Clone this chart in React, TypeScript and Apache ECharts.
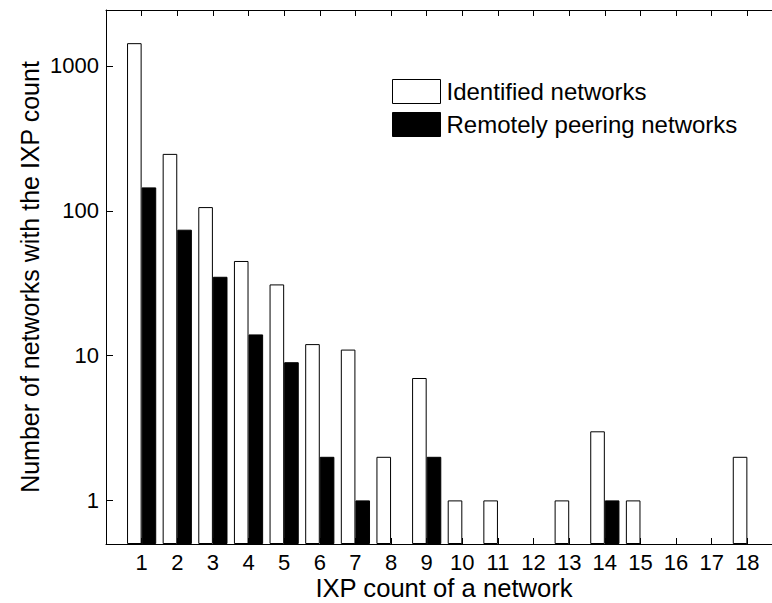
import React, { useEffect, useRef } from "react";
import * as echarts from "echarts";

// Number of IXPs a network is present at
const ixpCounts = [1, 2, 3, 4, 5, 6, 7, 8, 9, 10, 11, 12, 13, 14, 15, 16, 17, 18];
// Networks identified at each IXP count (0 = none)
const identified = [1436, 247, 106, 45, 31, 12, 11, 2, 7, 1, 1, 0, 1, 3, 1, 0, 0, 2];
// Networks peering remotely at each IXP count (0 = none)
const remotelyPeering = [145, 74, 35, 14, 9, 2, 1, 0, 2, 0, 0, 0, 0, 1, 0, 0, 0, 0];
const yTickValues = [1, 10, 100, 1000];

const seriesNames = ["Identified networks", "Remotely peering networks"];
const xTitle = "IXP count of a network";
const yTitle = "Number of networks with the IXP count";

const FONT = "'Liberation Sans', Arial, Helvetica, sans-serif";

const toPoints = (values: number[]) =>
  ixpCounts.map((c, i) => [c, values[i] > 0 ? values[i] : null]);

export default function App() {
  const ref = useRef<HTMLDivElement>(null);

  useEffect(() => {
    if (!ref.current) return;
    const chart = echarts.init(ref.current, undefined, { renderer: "svg" });

    const xAxisBase = {
      type: "value" as const,
      min: 0,
      max: ixpCounts.length + 1,
      interval: 1,
      splitLine: { show: false },
      axisLine: { show: true, lineStyle: { color: "#000", width: 1 } },
      axisTick: { show: true, inside: true, length: 6, lineStyle: { color: "#000" } },
    };

    chart.setOption({
      animation: false,
      backgroundColor: "#fff",
      textStyle: { fontFamily: FONT },
      grid: { left: 106, right: 7, top: 10, bottom: 59, containLabel: false },
      legend: {
        orient: "vertical",
        left: 392,
        top: 79,
        padding: 0,
        itemWidth: 48,
        itemHeight: 24,
        itemGap: 8,
        icon: "rect",
        textStyle: { fontFamily: FONT, fontSize: 24, color: "#000", padding: [0, 0, 0, 1] },
        data: [
          { name: seriesNames[0], itemStyle: { color: "#fff", borderColor: "#000", borderWidth: 1 } },
          { name: seriesNames[1], itemStyle: { color: "#000", borderColor: "#000", borderWidth: 1 } },
        ],
      },
      xAxis: [
        {
          ...xAxisBase,
          position: "bottom",
          axisLabel: {
            show: true,
            margin: 7,
            fontFamily: FONT,
            fontSize: 22,
            color: "#000",
            formatter: (v: number) => (ixpCounts.includes(v) ? String(v) : ""),
          },
        },
        {
          ...xAxisBase,
          position: "top",
          axisLabel: { show: false },
        },
      ],
      yAxis: {
        type: "log",
        logBase: 10,
        min: 0.5,
        max: 2433,
        startValue: 0.5,
        splitLine: { show: false },
        minorTick: { show: false },
        axisLine: { show: true, lineStyle: { color: "#000", width: 1 } },
        axisTick: { show: true, inside: true, length: 7, lineStyle: { color: "#000" } },
        axisLabel: {
          margin: 7,
          fontFamily: FONT,
          fontSize: 22,
          color: "#000",
          showMinLabel: false,
          showMaxLabel: false,
          formatter: (v: number) => {
            const r = Math.round(v);
            return yTickValues.includes(r) ? String(r) : "";
          },
        },
      },
      series: [
        {
          name: seriesNames[0],
          type: "bar",
          barWidth: 14.6,
          barGap: "0%",
          itemStyle: { color: "#fff", borderColor: "#000", borderWidth: 1 },
          data: toPoints(identified),
        },
        {
          name: seriesNames[1],
          type: "bar",
          barWidth: 14.6,
          barGap: "0%",
          itemStyle: { color: "#000", borderColor: "#000", borderWidth: 1 },
          data: toPoints(remotelyPeering),
        },
      ],
      graphic: [
        {
          type: "text",
          x: 444,
          y: 588,
          scaleX: 1.025,
          style: {
            text: xTitle,
            font: `25px ${FONT}`,
            fill: "#000",
            align: "center",
            verticalAlign: "middle",
            textAlign: "center",
            textVerticalAlign: "middle",
          },
        },
        {
          type: "text",
          x: 30,
          y: 277,
          rotation: Math.PI / 2,
          style: {
            text: yTitle,
            font: `25px ${FONT}`,
            fill: "#000",
            align: "center",
            verticalAlign: "middle",
            textAlign: "center",
            textVerticalAlign: "middle",
          },
        },
      ],
    });

    return () => chart.dispose();
  }, []);

  return (
    <div
      style={{
        position: "fixed",
        left: 0,
        top: 0,
        width: 772,
        height: 603,
        overflow: "hidden",
        background: "#fff",
      }}
    >
      <div ref={ref} style={{ width: 790, height: 603 }} />
    </div>
  );
}
